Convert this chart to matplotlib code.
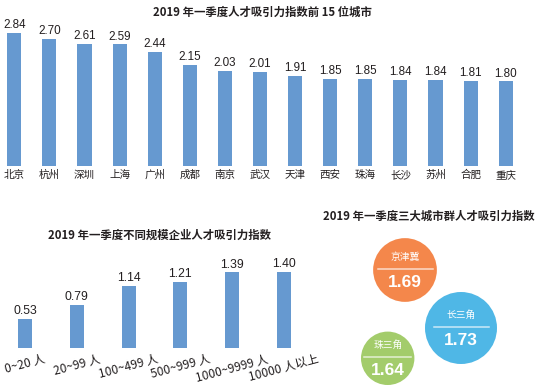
import matplotlib
matplotlib.use("Agg")
import matplotlib.pyplot as plt
from matplotlib.patches import Circle

plt.rcParams['font.family'] = ['Liberation Sans', 'Noto Sans CJK SC', 'DejaVu Sans']

# 前 15 位城市
cities = ['北京', '杭州', '深圳', '上海', '广州', '成都', '南京', '武汉',
          '天津', '西安', '珠海', '长沙', '苏州', '合肥', '重庆']
city_idx = [2.84, 2.70, 2.61, 2.59, 2.44, 2.15, 2.03, 2.01,
            1.91, 1.85, 1.85, 1.84, 1.84, 1.81, 1.80]

# 不同规模企业
sizes = ['0~20 人', '20~99 人', '100~499 人', '500~999 人', '1000~9999 人', '10000 人以上']
size_idx = [0.53, 0.79, 1.14, 1.21, 1.39, 1.40]

# 三大城市群
clusters = ['京津冀', '长三角', '珠三角']
cluster_idx = [1.69, 1.73, 1.64]

W, H = 541, 392
BAR = '#6699D0'
TXT = '#231F20'
CJK = ['Noto Sans CJK SC', 'DejaVu Sans']


def box(x0, y0, x1, y1):
    # 像素坐标(左上为原点) -> figure 比例
    return [x0 / W, 1 - y1 / H, (x1 - x0) / W, (y1 - y0) / H]


fig = plt.figure(figsize=(W / 100, H / 100), dpi=100)

# 上图
ax1 = fig.add_axes(box(0, 20, W, 165.7))
xs = range(len(cities))
ax1.bar(xs, city_idx, width=0.4, color=BAR)
ax1.set_xlim(-14.3 / 35.1, -14.3 / 35.1 + W / 35.1)
ax1.set_ylim(0, 145.7 / 46.8)
for i, v in zip(xs, city_idx):
    ax1.text(i, v + 0.04, f'{v:.2f}', ha='center', va='bottom', fontsize=8.4, color=TXT)
ax1.set_xticks(list(xs))
ax1.set_xticklabels(cities, family=CJK, fontsize=7.6, color=TXT, fontweight='medium')
ax1.tick_params(length=0, pad=3)
ax1.set_yticks([])
for s in ax1.spines.values():
    s.set_visible(False)
fig.text(262 / W, 1 - 12 / H, '2019 年一季度人才吸引力指数前 15 位城市',
         ha='center', va='center', fontsize=8.2, fontweight='bold', color=TXT, family=CJK)

# 左下图
ax2 = fig.add_axes(box(0, 250, 300, 347.7))
xs2 = range(len(sizes))
ax2.bar(xs2, size_idx, width=0.27, color=BAR)
ax2.set_xlim(-25 / 51.8, -25 / 51.8 + 300 / 51.8)
ax2.set_ylim(0, 97.7 / 54.3)
for i, v in zip(xs2, size_idx):
    ax2.text(i, v + 0.03, f'{v:.2f}', ha='center', va='bottom', fontsize=8.8, color=TXT)
ax2.set_xticks(list(xs2))
ax2.set_xticklabels(sizes, family=CJK, fontsize=8.6, color=TXT, rotation=15, ha='center')
ax2.tick_params(length=0, pad=3)
ax2.set_yticks([])
for s in ax2.spines.values():
    s.set_visible(False)
fig.text(160 / W, 1 - 235 / H, '2019 年一季度不同规模企业人才吸引力指数',
         ha='center', va='center', fontsize=8.2, fontweight='bold', color=TXT, family=CJK)

# 右下气泡
fig.text(429 / W, 1 - 216.7 / H, '2019 年一季度三大城市群人才吸引力指数',
         ha='center', va='center', fontsize=8.2, fontweight='bold', color=TXT, family=CJK)
ax3 = fig.add_axes(box(300, 225, W, H))
ax3.set_xlim(300, W)
ax3.set_ylim(H, 225)
ax3.axis('off')
centers = [(405, 270), (461, 328), (387.7, 358.3)]
colors = ['#F4874B', '#4FB7E6', '#A3CC6B']
for name, v, (cx, cy), c in zip(clusters, cluster_idx, centers, colors):
    r = 26.7 + (v - 1.64) * 103.3
    ax3.add_patch(Circle((cx, cy), r, color=c, lw=0))
    half = min(27.5, r - 3)
    ax3.plot([cx - half, cx + half], [cy - 1, cy - 1], color='white', alpha=0.7, lw=1.1)
    ax3.text(cx, cy - 13, name, ha='center', va='center', color='white',
             fontsize=7, family=CJK)
    ax3.text(cx, cy + 12.5, f'{v:.2f}', ha='center', va='center', color='white',
             fontsize=12.5, fontweight='bold', family='Liberation Sans')

fig.savefig('out.png', dpi=100)
